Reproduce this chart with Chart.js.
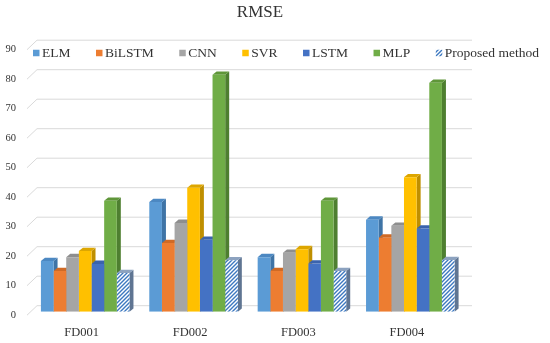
<!DOCTYPE html>
<html><head><meta charset="utf-8">
<script src="https://cdn.jsdelivr.net/npm/chart.js@4/dist/chart.umd.min.js"></script>
<style>html,body{margin:0;padding:0;background:#fff}#wrap{width:550px;height:343px;position:relative}</style>
</head><body><div id="wrap"><canvas id="c" width="550" height="343"></canvas></div>
<script>
// ---- data ----
const categories = ['FD001', 'FD002', 'FD003', 'FD004'];
const seriesNames = ['ELM', 'BiLSTM', 'CNN', 'SVR', 'LSTM', 'MLP', 'Proposed method'];
const elm      = [17.2, 37.2, 18.5, 31.2];
const bilstm   = [13.8, 23.3, 13.8, 25.1];
const cnn      = [18.5, 30.1, 20.0, 29.1];
const svr      = [20.6, 42.0, 21.2, 45.6];
const lstm     = [16.2, 24.4, 16.3, 28.2];
const mlp      = [37.6, 80.3, 37.6, 77.6];
const proposed = [13.1, 17.4, 13.8, 17.5];
const yMin = 0, yMax = 90, yStep = 10;

// ---- styles ----
const FONT = "'Liberation Serif', 'Times New Roman', serif";
const TXT = '#333333';
const colors = ['#5B9BD5', '#ED7D31', '#A5A5A5', '#FFC000', '#4472C4', '#70AD47', null];
const sideColors = ['#3F74A6', '#B35A1E', '#777777', '#BF8F00', '#2F5597', '#4E7F30', '#5F7592'];
const topColors = ['#4C88C2', '#D06A25', '#8E8E8E', '#DDA600', '#3A63AD', '#5F9639', '#8CA2BF'];

function makePattern() {
  const s = 4;
  const pc = document.createElement('canvas');
  pc.width = s; pc.height = s;
  const p = pc.getContext('2d');
  p.fillStyle = '#ffffff'; p.fillRect(0, 0, s, s);
  p.strokeStyle = '#3C78C0'; p.lineWidth = 1.4;
  p.beginPath();
  p.moveTo(-1, s + 1); p.lineTo(s + 1, -1);
  p.moveTo(-1, 1); p.lineTo(1, -1);
  p.moveTo(s - 1, s + 1); p.lineTo(s + 1, s - 1);
  p.stroke();
  return document.getElementById('c').getContext('2d').createPattern(pc, 'repeat');
}
const hatch = makePattern();
const fills = colors.map(c => c || hatch);
const seriesValues = [elm, bilstm, cnn, svr, lstm, mlp, proposed];

const DX = 4, DY = 3.3;

const threeD = {
  id: 'threeD',
  beforeDatasetsDraw(chart) {
    const ctx = chart.ctx, ys = chart.scales.y, a = chart.chartArea;
    ctx.save();
    // back-wall gridlines with left stubs
    ctx.strokeStyle = '#D9D9D9'; ctx.lineWidth = 1;
    ys.ticks.forEach(t => {
      const py = ys.getPixelForValue(t.value);
      ctx.beginPath();
      ctx.moveTo(a.left - 4, py + 3.5);
      ctx.lineTo(a.left + 6, py - 6);
      ctx.lineTo(a.right + 7.5, py - 6);
      ctx.stroke();
    });
    // sides and tops
    for (let i = 0; i < categories.length; i++) {
      chart.data.datasets.forEach((ds, d) => {
        const el = chart.getDatasetMeta(d).data[i];
        if (!el) return;
        const l = el.x - el.width / 2, r = el.x + el.width / 2, t = el.y, b = el.base;
        ctx.fillStyle = sideColors[d];
        ctx.beginPath();
        ctx.moveTo(r, t); ctx.lineTo(r + DX, t - DY); ctx.lineTo(r + DX, b - DY); ctx.lineTo(r, b);
        ctx.closePath(); ctx.fill();
        ctx.fillStyle = topColors[d];
        ctx.beginPath();
        ctx.moveTo(l, t); ctx.lineTo(l + DX, t - DY); ctx.lineTo(r + DX, t - DY); ctx.lineTo(r, t);
        ctx.closePath(); ctx.fill();
      });
    }
    ctx.restore();
  },
  afterDraw(chart) {
    // legend
    const ctx = chart.ctx;
    ctx.save();
    ctx.font = "13.5px " + FONT;
    ctx.textBaseline = 'middle';
    ctx.fillStyle = TXT;
    let x = 33; const y = 53, box = 6.5, gapText = 2.5, gapItem = 25.5;
    chart.data.datasets.forEach((ds, d) => {
      ctx.fillStyle = fills[d];
      ctx.fillRect(x, y - box / 2, box, box);
      ctx.fillStyle = TXT;
      ctx.fillText(ds.label, x + box + gapText, y);
      x += box + gapText + ctx.measureText(ds.label).width + gapItem;
    });
    ctx.restore();
  }
};

new Chart(document.getElementById('c'), {
  type: 'bar',
  data: {
    labels: categories,
    datasets: seriesNames.map((n, d) => ({
      label: n,
      data: seriesValues[d],
      backgroundColor: fills[d],
      borderWidth: 0,
      barPercentage: 1.0,
      categoryPercentage: 0.817
    }))
  },
  options: {
    responsive: false,
    animation: false,
    layout: { padding: { left: 0, right: 30, top: 0, bottom: 0 } },
    plugins: {
      legend: { display: false },
      tooltip: { enabled: false },
      title: {
        display: true, text: 'RMSE', color: TXT,
        font: { family: FONT, size: 17, weight: 'normal' },
        padding: { top: 2.5, bottom: 23.3 }
      }
    },
    scales: {
      x: {
        grid: { display: false, drawTicks: false },
        border: { display: false },
        ticks: { color: TXT, font: { family: FONT, size: 12.5 }, padding: 13.8, labelOffset: -3.5 },
        afterFit(s) { s.height = 31.3; }
      },
      y: {
        min: yMin, max: yMax,
        grid: { display: false, drawTicks: false },
        border: { display: false },
        ticks: { stepSize: yStep, color: TXT, font: { family: FONT, size: 10.5 }, padding: 15, labelOffset: 3.5 },
        afterFit(s) { s.width = 31; }
      },
      yR: {
        position: 'right', display: true,
        grid: { display: false, drawTicks: false },
        border: { display: false },
        ticks: { display: false },
        afterFit(s) { s.width = 55.5; }
      }
    }
  },
  plugins: [threeD]
});
</script>
</body></html>
